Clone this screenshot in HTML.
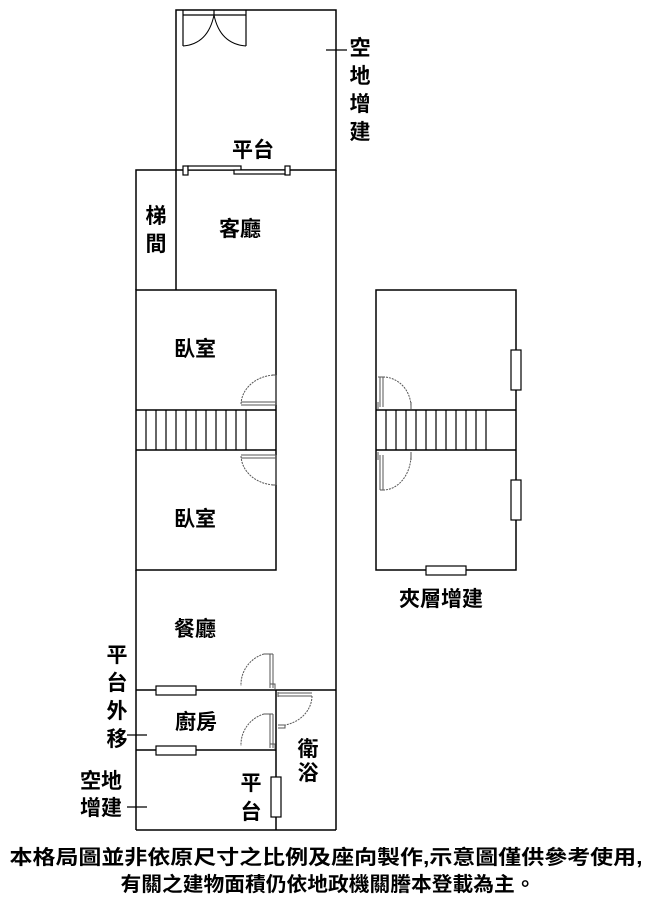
<!DOCTYPE html>
<html><head><meta charset="utf-8"><style>
html,body{margin:0;padding:0;background:#fff;}
svg{display:block;}
text{font-family:"Liberation Sans","Noto Sans CJK TC",sans-serif;font-weight:bold;fill:#000;}
</style></head><body>
<svg width="653" height="910" viewBox="0 0 653 910" xmlns="http://www.w3.org/2000/svg">
<g fill="none" stroke="#000" stroke-width="1.5">
<rect x="176" y="10" width="160" height="160"/>
<polyline points="176,170 136,170 136,290"/>
<line x1="176" y1="170" x2="176" y2="290"/>
<line x1="336" y1="170" x2="336" y2="830"/>
<rect x="136" y="290" width="140" height="280"/>
<line x1="136" y1="410" x2="276" y2="410"/>
<line x1="136" y1="450" x2="276" y2="450"/>
<line x1="136" y1="570" x2="136" y2="830"/>
<line x1="136" y1="830" x2="336" y2="830"/>
<line x1="136" y1="690" x2="336" y2="690"/>
<line x1="136" y1="750" x2="276" y2="750"/>
<line x1="276" y1="690" x2="276" y2="830"/>
<rect x="376" y="290" width="140" height="280"/>
<line x1="376" y1="410" x2="516" y2="410"/>
<line x1="376" y1="450" x2="516" y2="450"/>
</g>
<g stroke="#000" stroke-width="1.2" fill="none">
<path d="M146 410V450M156 410V450M166 410V450M176 410V450M186 410V450M196 410V450M206 410V450M216 410V450M226 410V450M236 410V450M246 410V450"/>
<path d="M386 410V450M396 410V450M406 410V450M416 410V450M426 410V450M436 410V450M446 410V450M456 410V450M466 410V450M476 410V450M486 410V450"/>
<rect x="156" y="686" width="40" height="9" fill="#fff"/>
<rect x="156" y="746" width="40" height="9" fill="#fff"/>
<rect x="271" y="777" width="10" height="40" fill="#fff"/>
<rect x="511" y="350" width="10" height="40" fill="#fff"/>
<rect x="511" y="480" width="10" height="40" fill="#fff"/>
<rect x="426" y="566" width="40" height="9" fill="#fff"/>
<rect x="183" y="166" width="5" height="9" fill="#fff"/>
<rect x="285" y="166" width="5" height="9" fill="#fff"/>
<rect x="188" y="166" width="53" height="4" fill="#fff"/>
<rect x="234" y="170" width="51" height="4" fill="#fff"/>
<path d="M183 10V46M246 10V46M183 15H246M214 10V15"/>
<path d="M183 46Q208 44 214 15M246 46Q220 44 214 15" stroke-width="1"/>
</g>
<g stroke="#555" stroke-width="1" fill="none">
<path d="M241 405H276M241 402H276M276 375V405M272 375H276"/>
<path d="M276 375A35 30 0 0 0 241 405" stroke-dasharray="2,1"/>
<path d="M241 455H276M241 458H276M276 455V485M272 485H276"/>
<path d="M276 485A35 30 0 0 1 241 455" stroke-dasharray="2,1"/>
<path d="M380 377V407M383 377V407M378 377H385M411 402V409M378 402V409"/>
<path d="M383 377A28 30 0 0 1 411 407" stroke-dasharray="2,1"/>
<path d="M380 455V490M383 455V490M411 452V460M378 452V460M380 490H385"/>
<path d="M383 490A28 35 0 0 0 411 455" stroke-dasharray="2,1"/>
<path d="M270 654V688M273 654V688M264 654H273M270 684H275V689"/>
<path d="M264 654A32 32 0 0 0 241 686" stroke-dasharray="2,1"/>
<path d="M270 714V748M273 714V748M264 714H273M270 744H275V749"/>
<path d="M264 714A32 32 0 0 0 241 746" stroke-dasharray="2,1"/>
<path d="M278 693H312M278 696H312M278 692V697M278 725H285V728H278"/>
<path d="M312 696A34 30 0 0 1 285 725" stroke-dasharray="2,1"/>
</g>
<g stroke="#000" stroke-width="1.2">
<line x1="326" y1="50" x2="347" y2="50"/>
<line x1="127" y1="735" x2="147" y2="735"/>
<line x1="127" y1="807" x2="147" y2="807"/>
</g>
<g font-size="21" text-anchor="middle">
<text x="360" y="55">空</text>
<text x="360" y="83">地</text>
<text x="360" y="111">增</text>
<text x="360" y="139">建</text>
<text x="253" y="157">平台</text>
<text x="156" y="223">梯</text>
<text x="156" y="251">間</text>
<text x="240" y="236">客廳</text>
<text x="195" y="356">臥室</text>
<text x="195" y="526">臥室</text>
<text x="195" y="636">餐廳</text>
<text x="196" y="729">廚房</text>
<text x="308" y="756">衛</text>
<text x="308" y="780">浴</text>
<text x="251" y="790">平</text>
<text x="251" y="819">台</text>
<text x="117" y="662">平</text>
<text x="117" y="690">台</text>
<text x="117" y="718">外</text>
<text x="117" y="746">移</text>
<text x="101" y="788">空地</text>
<text x="101" y="815">增建</text>
<text x="441" y="606">夾層增建</text>
</g>
<g font-size="20" text-anchor="middle">
<text x="326" y="864" textLength="633" lengthAdjust="spacingAndGlyphs">本格局圖並非依原尺寸之比例及座向製作,示意圖僅供參考使用,</text>
<text x="328" y="891" textLength="415" lengthAdjust="spacingAndGlyphs">有關之建物面積仍依地政機關謄本登載為主。</text>
</g>
</svg>
</body></html>
